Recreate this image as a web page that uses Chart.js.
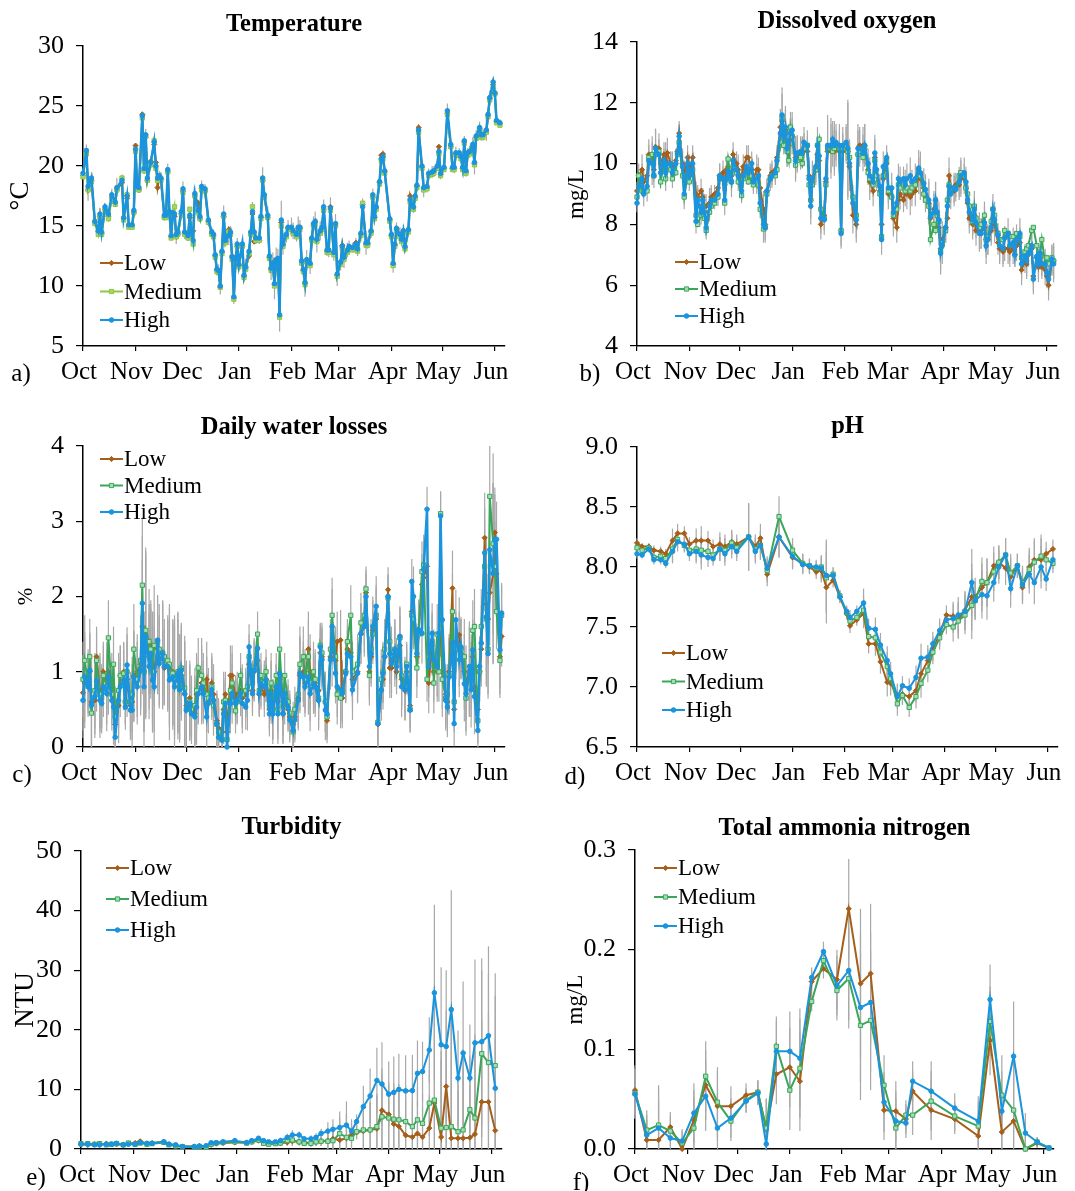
<!DOCTYPE html>
<html>
<head>
<meta charset="utf-8">
<title>Water quality by stocking density</title>
<script src="https://cdn.jsdelivr.net/npm/chart.js@4.4.1/dist/chart.umd.min.js"></script>
<style>
  html, body { margin: 0; padding: 0; background: #fff; }
  #wrap { position: relative; width: 1075px; height: 1191px; }
  .cell { position: absolute; }
</style>
</head>
<body>
<div id="wrap"></div>
<script>
// x axis: days counted from 1 October, month ticks at the first of each month
const monthTicks = [0, 31, 61, 92, 123, 151, 182, 212, 243];
const monthNames = ['Oct', 'Nov', 'Dec', 'Jan', 'Feb', 'Mar', 'Apr', 'May', 'Jun'];
const seriesNames = ['Low', 'Medium', 'High'];

// a) Temperature (°C)
const tempDays = [0,2,3,5,7,9,10,11,13,15, 17,19,20,23,24,26,27,29,30,31, 32,33,35,36,37,38,40,42,43,44,
  45,46,48,49,50,51,52,53,54,55, 56,58,59,60,62,63,64,65,66,68, 69,70,72,74,76,77,78,79,80,81,
  82,83,84,86,87,88,89,90,91,92, 94,95,96,98,99,100,101,102,104,105, 106,107,109,110,111,112,113,114,115,116,
  117,118,120,121,123,124,126,127,128,129, 130,131,132,134,135,136,137,138,140,141, 142,144,145,146,148,149,150,152,153,154,
  156,157,159,161,162,164,165,167,168,170, 171,172,173,175,176,177,178,181,182,183, 184,185,187,188,189,190,192,193,195,196,
  197,198,200,201,203,204,206,207,209,210, 211,213,215,217,218,219,220,222,223,224, 225,226,227,228,230,231,232,234,235,236,
  238,239,240,242,243,244,246];
const tempHigh = [19.4,21.3,18.3,19.0,15.4,14.6,16.0,14.5,16.6,16.0, 17.6,17.0,18.2,18.8,15.7,17.5,15.1,15.1,16.3,21.4,
  18.3,18.2,24.2,19.8,22.6,19.0,20.3,22.0,20.0,19.0, 19.2,19.0,15.9,15.9,19.7,16.2,14.2,16.1,16.0,14.3,
  14.5,16.2,18.1,14.5,14.2,15.9,14.5,13.8,17.7,16.3, 15.8,18.3,18.1,15.5,14.5,14.3,12.6,11.4,11.3,10.0,
  12.9,16.0,13.8,14.2,14.5,12.4,9.1,12.2,13.5,11.8, 13.5,10.9,11.6,12.9,14.5,16.2,14.5,14.0,14.0,15.8,
  19.0,17.6,15.9,12.5,11.5,11.9,10.2,12.2,12.3,7.6, 15.5,13.5,14.3,14.9,14.9,14.6,14.3,14.9,14.9,12.1,
  11.4,10.3,12.2,11.9,14.0,15.2,15.4,13.9,14.6,14.9, 16.6,13.0,13.0,16.5,12.8,15.2,11.0,12.0,13.3,12.4,
  13.0,13.3,13.2,13.5,13.1,14.4,16.6,13.6,13.6,14.6, 17.6,15.8,16.6,18.7,20.6,20.8,19.6,15.6,14.3,11.9,
  13.5,14.8,14.3,13.9,14.6,13.3,14.7,17.2,16.6,17.5, 18.4,23.0,20.0,18.2,18.3,19.4,19.5,19.6,20.0,21.2,
  19.4,19.9,24.6,21.8,19.9,19.9,21.1,21.1,20.8,19.9, 22.1,19.6,21.1,21.2,21.8,20.3,22.5,23.2,22.6,22.6,
  23.0,24.3,25.7,27.0,26.1,23.8,23.6];
const tempLow = [19.2,21.1,18.0,18.8,15.3,14.5,15.8,14.4,16.4,15.8, 17.4,16.9,18.0,18.6,15.6,17.3,15.0,15.0,16.1,21.7,
  18.1,18.0,24.3,19.6,22.4,18.8,20.4,21.8,20.3,18.2, 19.0,18.9,15.7,15.8,19.5,16.0,14.1,15.9,15.8,14.1,
  14.3,16.0,17.9,14.4,14.0,15.7,14.4,14.6,17.5,16.9, 15.6,18.1,17.9,15.4,14.4,14.2,12.5,11.3,11.2,9.9,
  12.8,15.8,13.7,14.7,14.4,12.5,9.0,12.0,13.3,11.7, 13.3,10.8,11.5,12.5,14.3,16.0,13.7,13.9,13.8,15.7,
  18.8,17.4,15.7,12.4,11.4,11.8,10.1,12.0,12.2,7.5, 15.3,13.4,14.2,14.8,14.8,14.4,14.2,14.8,14.8,12.0,
  11.3,10.2,12.0,11.8,13.9,15.0,15.3,13.8,14.4,14.8, 16.4,12.9,12.9,16.6,12.7,15.0,10.9,12.0,13.4,12.3,
  12.9,13.2,13.1,13.6,13.0,14.3,16.8,13.5,13.5,14.5, 17.4,15.7,16.5,18.6,20.9,21.0,19.5,15.5,14.2,11.8,
  13.4,14.7,14.2,13.8,14.5,13.2,14.6,17.5,16.5,17.4, 18.3,23.2,19.9,18.1,18.2,19.3,19.4,19.5,19.9,21.6,
  19.3,19.8,24.4,21.6,19.8,19.8,21.0,21.0,20.7,19.8, 22.0,19.5,21.0,21.1,21.6,20.2,22.4,23.1,22.5,22.5,
  22.9,24.2,25.6,26.8,26.0,23.7,23.5];
const tempMedium = [19.1,21.0,18.0,18.7,15.2,14.3,15.7,14.3,16.3,15.6, 17.3,16.8,18.0,19.0,15.5,17.6,14.9,14.9,16.1,21.2,
  18.1,18.0,24.0,19.6,22.5,18.8,20.1,22.1,19.8,18.8, 19.0,18.8,15.7,15.7,19.5,16.0,14.0,15.8,16.6,14.1,
  14.3,15.9,17.8,14.3,14.0,16.4,14.3,13.5,17.5,16.1, 15.6,18.0,17.9,15.3,14.3,14.1,12.4,11.2,11.1,9.9,
  12.7,15.8,13.6,14.5,14.3,12.2,8.9,12.0,13.3,11.6, 13.3,10.7,11.4,12.7,14.3,16.6,14.3,13.8,13.8,15.6,
  18.8,17.4,15.7,12.3,11.3,11.7,10.0,12.0,12.1,7.4, 15.0,13.3,14.1,14.7,14.7,14.4,14.1,14.7,14.7,11.9,
  11.2,10.1,12.0,11.7,13.8,15.0,15.2,13.7,14.4,14.7, 16.3,12.8,12.8,16.3,12.6,15.0,10.8,11.8,13.1,12.2,
  12.8,13.1,13.0,13.3,12.9,14.2,16.9,13.4,13.4,14.4, 17.4,15.6,16.4,18.5,20.4,20.6,19.4,15.4,14.1,11.7,
  13.3,14.6,14.1,13.7,14.4,13.1,14.5,17.0,16.4,17.3, 18.2,22.8,19.8,18.0,18.1,19.2,19.3,19.4,19.8,21.0,
  19.2,19.7,24.3,21.6,19.7,19.7,20.9,20.9,20.6,19.7, 21.9,19.4,20.9,21.0,21.6,20.1,22.3,23.0,22.4,22.4,
  22.8,24.1,25.5,26.6,26.0,23.6,23.4];
const tempErr = [0.4,0.5,1.2,0.5,0.4,0.4,0.5,0.3,0.3,0.4, 0.5,0.4,0.8,0.4,0.3,0.4,0.3,0.3,0.4,0.5,
  0.4,0.4,0.3,0.4,0.5,0.4,0.5,0.4,0.5,0.4, 0.4,0.5,0.4,0.4,0.5,0.6,0.4,0.5,0.4,0.8,
  0.5,0.5,0.6,0.6,0.4,0.5,0.5,0.4,0.6,0.5, 0.4,0.5,0.4,0.5,0.4,0.4,0.5,0.4,0.5,0.7,
  0.6,0.7,0.5,0.8,0.5,0.6,0.6,0.6,0.5,0.6, 0.5,0.6,0.7,0.6,0.6,0.8,0.5,0.5,0.5,0.6,
  0.9,0.6,0.7,1.2,1.0,0.9,1.3,1.0,0.8,1.4, 1.6,0.9,0.7,0.6,0.8,0.7,0.6,0.9,0.6,0.8,
  0.7,1.2,0.8,0.9,0.7,0.6,0.8,1.1,0.8,0.7, 0.6,0.5,0.6,0.9,0.7,0.8,1.0,0.7,0.5,0.9,
  0.6,0.5,0.4,0.5,0.6,0.7,0.7,1.0,0.5,0.6, 0.5,0.4,0.5,0.4,0.4,0.5,0.4,0.4,0.4,0.8,
  0.5,0.5,0.6,0.6,0.5,0.5,0.4,0.4,0.5,0.5, 0.5,0.5,0.5,0.8,0.5,0.4,0.5,0.4,0.4,0.5,
  0.5,0.4,0.6,0.5,0.4,0.5,0.5,0.4,0.4,0.5, 0.4,0.5,0.4,0.5,0.6,1.0,0.5,0.5,0.5,0.5,
  0.9,0.5,0.6,0.4,0.5,0.3,0.3];

// b) Dissolved oxygen (mg/L)
const doDays = [0,1,3,4,6,7,9,10,11,13, 14,16,17,18,20,21,23,24,25,27, 28,30,31,33,35,36,38,39,40,41,
  43,44,46,48,49,51,52,53,54,56, 57,59,60,62,63,65,66,68,69,71, 72,73,75,76,77,79,80,82,83,85,
  86,87,88,89,90,91,92,94,95,97, 98,99,101,102,103,104,106,107,108,109, 111,112,113,115,116,117,118,120,121,122,
  124,125,126,128,130,131,132,134,135,137, 138,140,141,142,144,145,146,148,149,151, 152,154,155,156,158,159,160,162,163,165,
  167,168,170,171,173,174,176,177,178,179, 180,181,183,184,185,186,188,189,191,192, 194,195,196,197,199,200,201,203,204,206,
  207,208,210,211,212,214,215,217,218,220, 221,223,224,225,227,228,230,231,232,234, 235,237,238,239,240,242,243,244,246,247];
const doHigh = [8.7,9.25,9.5,9.0,9.25,10.1,10.0,9.6,10.5,10.3, 9.7,10.1,9.7,10.0,10.0,9.7,10.0,10.35,10.9,9.9,
  9.0,10.0,9.6,10.0,8.1,8.8,8.4,8.8,8.4,7.9, 8.6,8.8,8.8,9.0,9.6,9.5,8.8,9.5,9.75,9.4,
  10.1,9.8,9.6,9.1,9.6,9.9,9.7,10.0,9.4,9.5, 9.6,8.7,8.0,7.9,9.1,9.5,9.6,9.7,10.1,11.0,
  11.6,10.9,11.2,10.5,10.7,11.0,11.1,10.1,10.35,10.4, 10.35,10.7,10.6,9.5,8.6,9.5,9.9,10.6,10.25,8.2,
  8.15,9.5,10.6,10.6,10.8,10.6,10.7,10.6,7.7,10.6, 10.7,10.5,10.0,8.7,8.15,10.5,10.5,10.35,10.6,10.0,
  9.6,9.4,10.35,9.8,9.25,7.5,9.9,10.2,9.2,9.2, 8.4,8.7,9.5,9.4,9.5,9.3,9.5,9.6,9.4,9.5,
  9.85,9.7,9.35,9.15,8.8,8.25,8.4,8.8,8.4,8.15, 7.05,7.3,7.9,8.6,9.25,9.0,9.2,9.15,9.4,9.6,
  9.7,9.4,8.8,8.4,8.15,8.5,8.05,7.7,7.7,8.05, 7.3,7.5,7.9,8.5,8.15,7.65,7.3,7.2,7.55,7.7,
  7.3,7.4,7.0,7.5,7.7,6.7,6.95,6.8,7.05,7.3, 6.2,6.95,6.7,7.05,6.7,6.7,6.4,6.2,6.85,6.7];
const doLow = [9.1,9.6,9.8,9.4,9.6,10.3,10.2,9.8,10.55,10.5, 10.0,10.3,10.1,10.35,10.0,9.9,10.1,10.4,11.0,10.0,
  9.6,10.2,9.8,10.2,9.0,8.9,9.1,8.9,8.6,8.6, 8.7,8.9,9.0,9.2,9.6,9.7,9.3,9.8,9.9,9.6,
  10.3,10.0,9.8,9.5,9.9,10.2,10.2,9.8,9.5,9.8, 9.8,9.2,8.5,8.0,9.1,9.6,9.7,9.8,10.2,11.2,
  11.4,11.0,11.1,10.5,10.6,10.8,10.9,10.2,10.3,10.3, 10.4,10.5,10.4,9.6,8.8,9.4,9.8,10.3,10.1,8.0,
  8.3,9.4,10.4,10.4,10.5,10.4,10.5,10.4,7.8,10.4, 10.6,10.4,9.9,8.3,8.0,10.3,10.6,10.6,10.6,9.8,
  9.4,9.1,10.2,9.6,9.1,8.0,9.5,10.0,9.0,8.9, 8.2,7.9,8.8,9.0,8.8,9.1,9.0,8.9,9.0,9.1,
  9.6,9.5,9.2,8.9,8.7,8.2,8.5,8.8,8.3,7.9, 7.2,7.5,7.9,8.2,9.6,9.2,9.1,9.3,9.3,9.5,
  9.5,9.2,8.7,8.2,8.0,8.3,7.8,7.8,7.7,7.9, 7.5,7.5,7.8,8.2,8.0,7.4,7.2,7.1,7.2,7.2,
  7.1,7.2,7.0,7.3,7.4,6.5,6.8,6.7,7.0,7.2, 6.3,6.9,6.6,6.9,6.6,6.5,6.3,6.0,6.8,6.8];
const doMedium = [8.9,9.6,9.1,9.1,9.1,10.2,10.3,9.6,10.3,10.4, 9.4,10.0,9.5,9.9,9.8,9.5,9.7,10.3,10.7,9.6,
  8.9,9.6,9.4,9.8,8.3,8.0,8.3,8.6,8.2,7.8, 8.4,8.6,8.7,8.9,9.5,9.5,8.7,9.5,10.15,9.4,
  9.9,9.7,9.4,8.95,9.5,9.8,9.4,9.6,9.3,9.4, 9.3,8.5,7.85,7.9,9.0,9.5,9.6,9.6,9.8,10.7,
  11.5,10.6,11.0,10.4,10.1,11.2,10.9,9.95,10.1,10.2, 10.0,10.5,10.6,9.3,8.8,9.3,9.8,10.6,10.8,8.5,
  8.2,9.3,10.5,10.6,10.4,10.5,10.6,10.5,7.8,10.5, 10.6,10.4,10.2,8.9,8.3,10.3,10.4,10.2,10.5,9.7,
  9.5,9.3,10.1,9.6,9.0,7.6,9.6,10.1,9.1,8.9, 8.3,8.5,9.3,9.2,9.3,9.1,9.2,9.1,9.2,9.3,
  9.8,9.6,9.0,8.8,8.6,7.5,8.0,7.8,8.3,8.1, 7.15,7.4,7.8,8.8,9.3,9.1,9.2,9.2,9.6,9.7,
  9.6,9.2,9.0,8.6,8.1,8.6,8.2,7.9,8.0,8.3, 7.5,7.6,8.1,8.5,8.3,7.7,7.5,7.5,7.8,7.7,
  7.6,7.6,7.4,7.7,7.6,6.9,7.1,7.2,7.3,7.8, 7.9,7.3,6.9,7.0,7.5,6.7,6.9,6.7,6.9,6.8];
const doErr = [0.3,0.4,0.5,0.4,0.5,0.5,0.7,0.4,0.6,0.5, 0.5,0.4,0.6,0.5,0.4,0.5,0.4,0.4,0.4,0.5,
  0.5,0.4,0.5,0.4,0.4,0.4,0.4,0.3,0.4,0.4, 0.5,0.4,0.3,0.4,0.4,0.4,0.5,0.4,0.4,0.5,
  0.4,0.4,0.5,0.4,0.4,0.4,0.4,0.4,0.4,0.5, 0.4,0.5,0.6,0.5,0.4,0.4,0.4,0.4,0.4,0.6,
  0.9,0.6,0.7,0.6,0.6,0.7,0.6,0.7,0.6,0.5, 0.5,0.5,0.5,0.6,0.6,0.6,0.5,0.6,0.6,0.5,
  0.5,0.7,1.0,0.9,0.6,0.8,0.6,0.7,0.5,0.6, 0.6,1.6,0.8,0.6,0.6,0.8,0.6,0.6,0.7,0.5,
  0.6,0.5,0.6,0.5,0.4,0.5,0.5,0.4,0.5,0.5, 0.6,0.5,0.5,0.5,0.4,0.5,0.5,0.6,0.4,0.5,
  0.6,0.7,0.5,0.5,0.7,0.5,0.6,0.6,0.5,0.6, 0.7,0.6,0.5,0.5,0.6,0.5,0.5,0.4,0.5,0.6,
  0.5,0.5,0.6,0.5,0.5,0.6,0.5,0.6,0.5,0.7, 0.6,0.5,0.5,0.5,0.6,0.4,0.5,0.5,0.4,0.5,
  0.5,0.5,0.4,0.5,0.5,0.5,0.4,0.5,0.4,0.5, 0.5,0.4,0.5,0.4,0.4,0.5,0.4,0.5,0.5,0.6];

// c) Daily water losses (%)
const lossDays = [0,1,3,4,5,7,8,10,11,12, 14,15,17,18,19,21,22,24,25,26, 28,29,30,32,34,35,36,37,39,40,
  41,42,44,45,47,48,50,51,53,54, 56,57,58,60,61,63,64,66,67,68, 70,71,73,74,76,77,79,80,82,83,
  84,85,87,88,90,91,93,94,96,97, 98,100,101,103,104,105,107,108,110,111, 112,114,115,116,118,119,121,122,124,125,
  127,128,130,131,133,134,136,137,139,140, 141,143,144,146,147,149,150,152,153,155, 156,158,159,162,164,166,167,169,170,171,
  173,174,176,177,178,180,181,182,184,185, 187,188,190,191,193,194,195,197,198,200, 201,203,204,206,207,209,210,211,212,214,
  215,216,218,219,220,222,223,225,226,228, 229,230,231,233,234,235,237,238,239,240, 242,243,244,246,247];
const lossHigh = [0.62,0.93,0.8,1.02,0.56,0.67,0.87,0.62,0.58,0.8, 0.71,0.93,0.62,0.53,0.13,0.62,0.8,0.89,0.53,1.09,
  0.49,0.49,0.93,0.8,1.02,1.91,0.8,1.47,1.07,1.24, 0.89,0.8,1.42,1.11,1.24,1.07,1.07,0.89,0.93,0.8,
  0.98,0.76,1.02,0.71,0.49,0.58,0.44,0.4,0.53,0.71, 0.8,0.71,0.4,0.58,0.76,0.62,0.31,0.13,0.09,0.44,
  0.58,0.0,0.58,0.71,0.58,0.62,0.71,0.58,0.53,0.62, 1.33,0.71,1.02,1.31,0.71,0.84,0.8,0.89,0.44,0.71,
  0.44,0.8,0.44,0.98,0.44,0.71,0.53,0.36,0.22,0.36, 0.62,0.98,0.93,0.8,0.93,0.71,0.84,0.8,0.62,1.33,
  1.16,0.49,0.44,1.16,1.6,0.98,0.8,0.76,0.71,0.98, 1.24,1.2,0.76,0.98,1.51,1.6,2.0,1.07,1.24,1.6,
  1.87,0.31,0.76,0.98,1.2,2.0,1.24,1.11,1.29,1.07, 1.47,0.8,0.76,1.07,0.49,2.2,2.0,1.24,1.56,1.51,
  2.36,3.16,1.07,1.51,1.16,1.07,1.51,3.07,1.69,0.62, 0.53,0.93,1.38,0.31,1.69,1.16,1.33,0.84,0.71,1.07,
  0.76,1.29,0.67,0.22,1.07,1.38,2.58,1.73,1.24,2.62, 2.31,2.76,2.76,1.29,1.78];
const lossLow = [0.72,0.85,0.9,1.0,0.6,0.62,1.2,0.75,0.7,1.0, 0.9,1.0,0.85,0.6,0.3,0.55,0.95,1.0,0.6,0.9,
  0.55,0.6,0.95,1.0,1.1,1.6,1.0,1.5,1.2,1.35, 1.1,1.0,1.3,1.15,1.2,1.05,1.1,1.05,1.0,0.95,
  0.9,0.8,0.95,0.7,0.55,0.65,0.55,0.45,0.7,0.7, 0.85,0.75,0.9,0.6,0.85,0.7,0.35,0.25,0.2,0.5,
  0.7,0.2,0.95,0.95,0.65,0.7,0.75,0.65,0.7,0.75, 1.1,0.75,1.0,1.15,0.7,0.8,0.7,0.9,0.5,0.75,
  0.5,0.8,0.6,0.9,0.45,0.6,0.5,0.4,0.3,0.4, 0.65,0.95,1.0,0.85,1.3,1.0,0.9,0.85,0.75,1.25,
  1.2,0.6,0.35,1.2,1.3,1.15,1.4,1.42,0.65,1.0, 1.3,1.25,0.9,1.0,1.5,1.65,2.05,1.0,1.2,1.55,
  1.7,0.3,0.75,0.9,1.2,2.09,1.05,1.05,1.2,1.0, 1.35,0.9,0.75,1.0,0.55,1.8,1.7,1.2,1.5,2.16,
  2.25,2.4,0.85,1.35,1.0,1.0,1.45,1.5,1.0,0.7, 0.6,1.0,2.11,0.5,1.4,1.49,1.3,1.0,0.85,1.0,
  1.0,1.2,0.8,0.5,1.0,1.3,2.78,1.9,1.7,2.05, 2.3,2.85,2.3,1.2,1.47];
const lossMedium = [0.9,1.15,0.85,1.2,0.45,0.75,1.15,0.7,0.65,0.95, 0.8,1.45,0.7,1.1,0.4,0.75,0.95,0.98,0.6,1.0,
  0.6,0.7,1.3,0.9,1.15,2.15,1.0,1.55,1.4,1.3, 1.0,1.35,1.4,1.3,1.25,1.2,1.15,1.1,0.98,0.9,
  1.0,0.8,1.05,0.78,0.5,0.6,0.5,0.55,0.75,1.05, 0.95,0.85,0.7,0.65,0.8,0.55,0.3,0.2,0.1,0.6,
  0.62,0.1,0.75,0.85,0.48,0.6,0.95,0.7,0.75,0.8, 1.2,0.85,1.05,1.5,0.75,0.95,0.85,1.0,0.55,0.85,
  0.5,0.95,0.5,1.3,0.55,0.95,0.6,0.45,0.2,0.5, 0.7,1.1,1.2,0.9,1.2,0.85,1.0,0.9,0.65,1.35,
  1.25,0.6,0.4,1.3,1.75,1.2,0.7,0.65,0.75,1.0, 1.4,1.75,1.0,1.1,1.65,1.75,2.1,0.95,1.3,1.5,
  1.75,0.33,0.9,1.0,1.3,1.98,1.4,1.2,1.3,1.15, 1.45,0.95,0.8,1.1,0.5,1.75,1.7,1.05,1.5,2.33,
  2.42,0.9,1.2,1.4,0.85,1.5,1.0,3.1,0.9,0.65, 0.7,0.95,1.8,0.6,1.3,1.3,1.3,1.2,0.65,1.0,
  0.9,1.55,1.6,0.35,1.0,1.6,2.4,1.7,1.3,3.33, 2.7,2.4,1.8,1.15,1.75];
const lossErr = [0.5,0.6,0.4,0.5,0.6,0.5,0.4,0.5,0.4,0.4, 0.5,0.5,0.4,0.5,0.4,0.5,0.4,0.4,0.3,0.5,
  0.4,0.5,0.6,0.5,0.6,0.9,0.8,1.1,0.7,0.6, 0.7,0.8,0.6,0.6,0.7,0.5,0.6,0.8,0.7,0.8,
  0.8,0.7,0.6,0.7,0.6,0.5,0.4,0.5,0.5,0.4, 0.5,0.4,0.5,0.4,0.4,0.4,0.4,0.4,0.3,0.4,
  0.3,0.3,0.4,0.4,0.3,0.3,0.3,0.4,0.3,0.4, 0.3,0.3,0.4,0.3,0.3,0.3,0.3,0.3,0.3,0.4,
  0.4,0.3,0.4,0.4,0.4,0.3,0.3,0.3,0.3,0.3, 0.4,0.5,0.4,0.4,0.5,0.5,0.4,0.4,0.4,0.3,
  0.4,0.4,0.3,0.4,0.5,0.4,0.4,0.4,0.4,0.4, 0.3,0.4,0.4,0.4,0.4,0.4,0.3,0.4,0.4,0.4,
  0.4,0.3,0.4,0.4,0.4,0.3,0.4,0.4,0.4,0.3, 0.4,0.4,0.4,0.3,0.3,0.3,0.4,0.4,0.4,0.4,
  0.4,0.3,0.4,0.4,0.4,0.4,0.4,0.3,0.5,0.4, 0.4,0.5,0.5,0.3,0.4,0.5,0.4,0.5,0.5,0.6,
  0.5,0.4,0.5,0.3,0.4,0.5,0.6,0.9,0.6,0.7, 1.2,0.6,0.5,0.5,0.4];

// d) pH
const phDays = [0,3,7,10,14,17,21,24,28,31, 35,38,42,45,49,52,56,59,66,70, 73,77,84,92,98,102,106,109,112,116,
  120,124,126,130,134,137,141,144,148,150, 154,157,161,165,168,172,175,179,183,187, 190,194,198,200,204,207,211,214,218,221,
  225,228,232,235,239,242,246];
const phLow = [8.2,8.17,8.17,8.14,8.13,8.11,8.22,8.28,8.28,8.19, 8.22,8.22,8.22,8.17,8.19,8.17,8.21,8.19,8.25,8.17,
  8.24,7.94,8.25,8.08,8.03,8.0,7.96,7.97,7.83,7.89, 7.75,7.61,7.51,7.56,7.61,7.36,7.36,7.21,7.04,7.03,
  6.93,6.94,6.92,6.97,7.11,7.22,7.32,7.44,7.60,7.59, 7.56,7.64,7.75,7.75,7.83,7.87,8.01,8.04,7.99,7.92,
  8.01,7.83,8.0,8.06,8.06,8.11,8.15];
const phMedium = [8.16,8.14,8.16,8.08,8.09,8.07,8.15,8.23,8.18,8.14, 8.15,8.14,8.13,8.10,8.15,8.14,8.2,8.16,8.25,8.15,
  8.18,7.97,8.42,8.14,8.03,8.01,7.99,8.0,7.91,7.94, 7.76,7.62,7.55,7.58,7.64,7.42,7.41,7.29,7.17,7.07,
  6.86,6.93,6.83,6.92,7.03,7.14,7.29,7.41,7.52,7.50, 7.55,7.60,7.68,7.72,7.88,7.87,7.96,8.04,8.10,7.95,
  8.01,7.87,7.98,8.04,8.09,8.06,8.03];
const phHigh = [8.11,8.10,8.15,8.06,8.06,8.03,8.13,8.21,8.19,8.11, 8.13,8.10,8.08,8.07,8.15,8.11,8.17,8.13,8.25,8.13,
  8.18,7.99,8.25,8.09,8.02,8.01,8.0,7.99,7.93,7.93, 7.75,7.63,7.58,7.63,7.70,7.49,7.48,7.35,7.22,7.11,
  6.92,7.01,6.99,7.08,7.24,7.25,7.36,7.47,7.56,7.57, 7.60,7.63,7.87,7.72,7.77,7.76,7.87,8.0,8.10,7.82,
  8.01,7.85,7.94,7.87,8.0,7.90,8.06];
const phErr = [0.04,0.03,0.03,0.04,0.04,0.04,0.1,0.08,0.06,0.06, 0.1,0.12,0.08,0.06,0.1,0.1,0.1,0.08,0.28,0.1,
  0.12,0.1,0.17,0.1,0.08,0.06,0.06,0.1,0.3,0.06, 0.05,0.05,0.06,0.05,0.12,0.08,0.1,0.1,0.12,0.1,
  0.1,0.08,0.08,0.1,0.12,0.1,0.1,0.1,0.08,0.12, 0.15,0.16,0.28,0.16,0.2,0.2,0.16,0.14,0.14,0.16,
  0.1,0.14,0.16,0.18,0.18,0.1,0.08];

// e) Turbidity (NTU)
const turbDays = [0,4,8,11,15,18,21,25,28,32, 35,39,42,49,52,56,60,67,70,74, 77,80,84,91,98,101,105,108,111,115,
  118,122,125,129,132,136,139,142,146,149, 153,157,160,163,167,171,175,178,182,185, 188,192,196,199,202,206,209,213,216,219,
  223,226,230,233,237,241,245];
const turbLow = [0.8,0.7,0.8,0.7,0.9,0.8,0.8,0.7,0.9,1.0, 1.3,0.9,1.0,1.2,0.8,0.6,0.4,0.4,0.5,0.5,
  0.7,0.9,1.0,1.1,1.1,1.2,1.4,1.1,0.9,1.0, 1.0,1.1,1.3,1.2,1.1,1.0,1.2,1.3,1.4,1.7,
  1.5,1.8,2.4,2.8,3.0,3.2,3.4,6.5,5.8,4.2, 3.8,2.3,2.0,2.6,2.0,3.5,7.7,2.0,10.5,1.8,
  1.8,1.8,1.9,2.5,7.9,7.9,3.1];
const turbMedium = [0.9,0.9,0.8,0.9,0.7,0.8,0.9,0.7,1.0,0.8, 1.0,0.8,0.9,1.1,0.7,0.5,0.4,0.3,0.4,0.3,
  0.8,1.0,1.1,1.2,1.0,1.2,1.5,0.95,0.8,0.9, 1.0,1.4,1.5,1.2,0.95,0.95,1.2,1.3,1.3,1.4,
  2.6,1.95,1.8,2.9,3.2,3.2,3.75,5.4,5.2,5.0, 4.9,4.6,3.75,4.9,4.3,7.7,8.2,3.5,3.6,3.75,
  2.9,3.2,6.6,5.2,16.0,14.5,14.0];
const turbHigh = [0.8,0.8,0.7,0.7,0.8,0.8,0.95,0.7,0.8,0.8, 1.1,0.95,0.95,1.2,0.8,0.7,0.4,0.4,0.5,0.55,
  1.05,1.05,1.2,1.4,1.05,1.4,1.8,1.4,1.2,1.2, 1.4,1.95,2.35,2.35,1.7,1.7,1.95,2.6,3.0,3.3,
  3.6,4.0,3.0,4.6,7.1,8.9,11.5,10.9,9.2,9.5, 10.0,9.75,9.8,12.7,13.0,16.6,26.2,17.5,17.2,23.4,
  11.9,16.1,11.9,17.8,18.0,19.0,10.2];
const turbErr = [0.2,0.2,0.2,0.2,0.2,0.2,0.2,0.2,0.2,0.2, 0.3,0.2,0.2,0.3,0.2,0.2,0.2,0.2,0.2,0.2,
  0.3,0.3,0.3,0.3,0.3,0.3,0.4,0.3,0.3,0.3, 0.5,0.6,0.8,0.6,0.5,0.6,0.7,0.8,1.5,1.7,
  2.7,4.0,2.0,1.2,3.5,4.6,5.5,7.0,5.5,6.0, 6.0,6.0,6.0,5.5,5.0,5.5,14.8,13.0,12.8,20.0,
  8.0,12.0,9.0,14.0,14.0,15.0,15.5];

// f) Total ammonia nitrogen (mg/L)
const tanDays = [0,7,14,21,28,35,42,49,57,66, 73,78,84,92,98,105,112,120,127,134, 140,148,155,161,165,176,190,204,211,218,
  225,232,239,246];
const tanLow = [0.059,0.009,0.009,0.022,0.0,0.029,0.064,0.043,0.043,0.054, 0.057,0.02,0.075,0.082,0.068,0.168,0.181,0.17,0.241,0.166,
  0.176,0.039,0.038,0.03,0.058,0.039,0.03,0.013,0.109,0.017, 0.028,0.0,0.006,0.001];
const tanMedium = [0.056,0.019,0.024,0.018,0.006,0.021,0.073,0.047,0.028,0.049, 0.057,0.021,0.103,0.059,0.081,0.148,0.189,0.159,0.171,0.124,
  0.129,0.064,0.021,0.034,0.034,0.048,0.033,0.023,0.128,0.054, 0.039,0.0,0.007,0.001];
const tanHigh = [0.055,0.014,0.021,0.011,0.008,0.036,0.053,0.021,0.031,0.048, 0.056,0.005,0.098,0.098,0.091,0.172,0.198,0.164,0.179,0.142,
  0.147,0.047,0.028,0.026,0.068,0.058,0.041,0.028,0.15,0.038, 0.093,0.016,0.007,0.001];
const tanErr = [0.025,0.02,0.04,0.015,0.012,0.03,0.035,0.035,0.02,0.012, 0.012,0.03,0.03,0.04,0.05,0.01,0.01,0.03,0.05,0.075,
  0.07,0.03,0.03,0.015,0.02,0.03,0.015,0.025,0.035,0.04, 0.055,0.02,0.005,0.0];

const FONT = '"Liberation Serif", "Times New Roman", serif';
Chart.defaults.font.family = FONT;
Chart.defaults.color = '#000';

const LOW = '#A65F1A';
const MED = '#3AA65A';
const MED_A = '#8DC63F';
const HIGH = '#1A94DC';

function pts(days, vals) {
  return days.map((d, i) => ({ x: d, y: vals[i] }));
}

// error bars and the hand placed legend / panel letter
function extras(p) {
  return {
    id: 'extras',
    beforeDatasetsDraw(chart) {
      const ctx = chart.ctx, xs = chart.scales.x, ys = chart.scales.y;
      ctx.save();
      ctx.strokeStyle = '#a8a8a8';
      ctx.lineWidth = 1.2;
      p.errOn.forEach(k => {
        chart.data.datasets[k].data.forEach((pt, i) => {
          const e = p.err[i];
          if (!e) return;
          const x = xs.getPixelForValue(pt.x);
          const top = ys.getPixelForValue(Math.min(pt.y + e, p.yMax));
          const bot = ys.getPixelForValue(Math.max(pt.y - e, p.yMin));
          ctx.beginPath();
          ctx.moveTo(x, top);
          ctx.lineTo(x, bot);
          ctx.stroke();
        });
      });
      ctx.restore();
    },
    afterDraw(chart) {
      const ctx = chart.ctx;
      ctx.save();
      chart.data.datasets.forEach((ds, k) => {
        const y = p.legend.y + k * p.legend.dy;
        const x0 = p.legend.x;
        ctx.strokeStyle = ds.borderColor;
        ctx.lineWidth = 2;
        ctx.beginPath();
        ctx.moveTo(x0, y);
        ctx.lineTo(x0 + 23, y);
        ctx.stroke();
        ctx.fillStyle = ds.pointBackgroundColor;
        ctx.strokeStyle = ds.pointBorderColor;
        ctx.lineWidth = 1;
        Chart.helpers.drawPoint(ctx, { pointStyle: ds.pointStyle, radius: ds.pointRadius, borderWidth: 1, rotation: 0 }, x0 + 11.5, y);
        ctx.fillStyle = '#000';
        ctx.font = '23px ' + FONT;
        ctx.textAlign = 'left';
        ctx.textBaseline = 'middle';
        ctx.fillText(ds.label, x0 + 24, y + 1);
      });
      ctx.font = '25px ' + FONT;
      ctx.textAlign = 'center';
      ctx.textBaseline = 'middle';
      ctx.fillStyle = '#000';
      ctx.fillText(p.letter, p.letterX, p.letterY);
      ctx.restore();
    }
  };
}

function makePanel(p) {
  const div = document.createElement('div');
  div.className = 'cell';
  div.style.cssText = `left:${p.cell.x}px;top:${p.cell.y}px;width:${p.cell.w}px;height:${p.cell.h}px`;
  const canvas = document.createElement('canvas');
  div.appendChild(canvas);
  document.getElementById('wrap').appendChild(div);

  const lh = p.titleSize * 1.2;
  const padTop = p.titleY - lh / 2;
  const padBottom = p.plot.t - padTop - lh;
  const medColor = p.medColor || MED;

  const datasets = [
    { label: seriesNames[0], data: pts(p.days, p.low), order: 2, borderColor: LOW, borderWidth: 2,
      pointStyle: 'rectRot', pointRadius: 2.6, pointBackgroundColor: LOW, pointBorderColor: LOW, pointBorderWidth: 1 },
    { label: seriesNames[1], data: pts(p.days, p.med), order: 1, borderColor: medColor, borderWidth: 2,
      pointStyle: 'rect', pointRadius: 3, pointBackgroundColor: p.medFill || '#A6DCB3', pointBorderColor: medColor, pointBorderWidth: 1 },
    { label: seriesNames[2], data: pts(p.days, p.high), order: 0, borderColor: HIGH, borderWidth: p.highW || 2,
      pointStyle: 'circle', pointRadius: 2.3, pointBackgroundColor: HIGH, pointBorderColor: HIGH, pointBorderWidth: 1 }
  ];
  datasets.forEach(d => { d.clip = false; d.tension = 0; d.fill = false; });

  new Chart(canvas, {
    type: 'line',
    data: { datasets: datasets },
    options: {
      responsive: true,
      maintainAspectRatio: false,
      animation: false,
      events: [],
      layout: { padding: { left: 0, top: 0, right: p.cell.w - p.plot.r, bottom: 0 } },
      plugins: {
        legend: { display: false },
        tooltip: { enabled: false },
        title: {
          display: true,
          text: p.title,
          fullSize: false,
          font: { size: p.titleSize, weight: 'bold' },
          padding: { top: padTop, bottom: padBottom }
        }
      },
      scales: {
        x: {
          type: 'linear',
          min: 0,
          max: 249,
          afterBuildTicks: s => { s.ticks = monthTicks.map(v => ({ value: v })); },
          afterFit: s => { s.height = p.cell.h - p.plot.b; },
          ticks: {
            autoSkip: false,
            maxRotation: 0,
            font: { size: 25 },
            padding: 6,
            labelOffset: -4,
            callback: v => monthNames[monthTicks.indexOf(v)]
          },
          grid: { drawOnChartArea: false, tickLength: 5, color: '#000', lineWidth: 1.2 },
          border: { color: '#000', width: 1.5 }
        },
        y: {
          min: p.yMin,
          max: p.yMax,
          afterFit: s => { s.width = p.plot.l; },
          ticks: {
            stepSize: p.yStep,
            font: { size: 26 },
            padding: 12,
            callback: v => Number(v).toFixed(p.yDec)
          },
          grid: { drawOnChartArea: false, tickLength: 7, color: '#000', lineWidth: 1.2 },
          border: { color: '#000', width: 1.5 },
          title: {
            display: !!p.yTitle,
            text: p.yTitle || '',
            font: { size: p.yTitleSize || 22 },
            padding: { top: (p.yTitleX || 20) - (p.yTitleSize || 22) * 0.6, bottom: 0 }
          }
        }
      }
    },
    plugins: [extras(p)]
  });
}

const panels = [
  { cell: { x: 0, y: 0, w: 537, h: 400 }, plot: { l: 83, t: 46, r: 505, b: 346 },
    title: 'Temperature', titleSize: 24.5, titleY: 25, yTitle: '°C', yTitleSize: 27, yTitleX: 21,
    yMin: 5, yMax: 30, yStep: 5, yDec: 0,
    days: tempDays, low: tempLow, med: tempMedium, high: tempHigh, err: tempErr, errOn: [2],
    letter: 'a)', letterX: 21, letterY: 374, legend: { x: 100, y: 263, dy: 28.5 },
    medColor: MED_A, medFill: '#A8D46C', highW: 2.5 },
  { cell: { x: 537, y: 0, w: 538, h: 400 }, plot: { l: 100, t: 42, r: 520, b: 346 },
    title: 'Dissolved oxygen', titleSize: 24.5, titleY: 22, yTitle: 'mg/L', yTitleSize: 23, yTitleX: 40,
    yMin: 4, yMax: 14, yStep: 2, yDec: 0,
    days: doDays, low: doLow, med: doMedium, high: doHigh, err: doErr, errOn: [0, 2],
    letter: 'b)', letterX: 53, letterY: 374, legend: { x: 138, y: 262, dy: 27 }, highW: 2.5 },
  { cell: { x: 0, y: 400, w: 537, h: 400 }, plot: { l: 83, t: 46, r: 505, b: 347 },
    title: 'Daily water losses', titleSize: 24.5, titleY: 28, yTitle: '%', yTitleSize: 21, yTitleX: 26,
    yMin: 0, yMax: 4, yStep: 1, yDec: 0,
    days: lossDays, low: lossLow, med: lossMedium, high: lossHigh, err: lossErr, errOn: [0, 1, 2],
    letter: 'c)', letterX: 22, letterY: 375, legend: { x: 100, y: 59, dy: 26.5 }, highW: 2.5 },
  { cell: { x: 537, y: 400, w: 538, h: 400 }, plot: { l: 100, t: 47, r: 521, b: 347 },
    title: 'pH', titleSize: 24.5, titleY: 27, yTitle: '', yMin: 6.5, yMax: 9, yStep: 0.5, yDec: 1,
    days: phDays, low: phLow, med: phMedium, high: phHigh, err: phErr, errOn: [0, 1, 2],
    letter: 'd)', letterX: 38, letterY: 377, legend: { x: 125, y: 253, dy: 28.5 } },
  { cell: { x: 0, y: 800, w: 537, h: 391 }, plot: { l: 81, t: 51, r: 502, b: 349 },
    title: 'Turbidity', titleSize: 24.5, titleY: 28, yTitle: 'NTU', yTitleSize: 27, yTitleX: 26,
    yMin: 0, yMax: 50, yStep: 10, yDec: 0,
    days: turbDays, low: turbLow, med: turbMedium, high: turbHigh, err: turbErr, errOn: [0, 1, 2],
    letter: 'e)', letterX: 36, letterY: 378, legend: { x: 106, y: 68, dy: 31 } },
  { cell: { x: 537, y: 800, w: 538, h: 391 }, plot: { l: 98, t: 50, r: 517, b: 349 },
    title: 'Total ammonia nitrogen', titleSize: 24.5, titleY: 29, yTitle: 'mg/L', yTitleSize: 23, yTitleX: 39,
    yMin: 0, yMax: 0.3, yStep: 0.1, yDec: 1,
    days: tanDays, low: tanLow, med: tanMedium, high: tanHigh, err: tanErr, errOn: [0, 1, 2],
    letter: 'f)', letterX: 44, letterY: 383, legend: { x: 117, y: 68, dy: 29 } }
];

panels.forEach(makePanel);
</script>
</body>
</html>
